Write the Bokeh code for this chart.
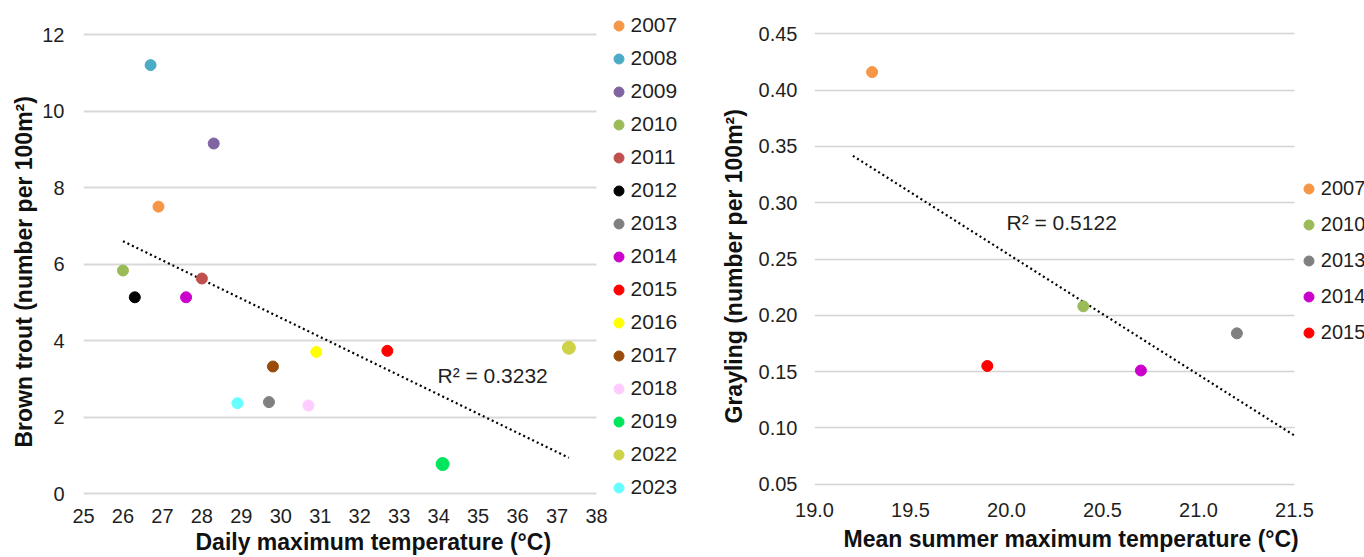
import numpy as np
from bokeh.plotting import figure
from bokeh.layouts import row
from bokeh.models import (Range1d, FixedTicker, NumeralTickFormatter, Legend,
                          LegendItem, Label, Title)
from bokeh.embed import file_html
from bokeh.resources import INLINE

# ---------------- data: brown trout (left panel) ----------------
bt_years = ["2007", "2008", "2009", "2010", "2011", "2012", "2013", "2014",
            "2015", "2016", "2017", "2018", "2019", "2022", "2023"]
bt_temp = [26.9, 26.7, 28.3, 26.0, 28.0, 26.3, 29.7, 27.6,
           32.7, 30.9, 29.8, 30.7, 34.1, 37.3, 28.9]
bt_density = [7.50, 11.20, 9.15, 5.83, 5.62, 5.13, 2.39, 5.13,
              3.73, 3.70, 3.32, 2.30, 0.77, 3.81, 2.36]
bt_colors = ["#F79646", "#4BACC6", "#8064A2", "#9BBB59", "#C0504D", "#000000",
             "#808080", "#CC00CC", "#FF0000", "#FFFF00", "#994C0A", "#FFCCFF",
             "#00E65C", "#CDD246", "#66FFFF"]
bt_r2 = "R² = 0.3232"
bt_x_ticks = [25, 26, 27, 28, 29, 30, 31, 32, 33, 34, 35, 36, 37, 38]
bt_y_ticks = [0, 2, 4, 6, 8, 10, 12]

# ---------------- data: grayling (right panel) ----------------
gr_years = ["2007", "2010", "2013", "2014", "2015"]
gr_temp = [19.3, 20.4, 21.2, 20.7, 19.9]
gr_density = [0.416, 0.208, 0.184, 0.151, 0.155]
gr_colors = ["#F79646", "#9BBB59", "#808080", "#CC00CC", "#FF0000"]
gr_r2 = "R² = 0.5122"
gr_trend_span = [19.2, 21.5]
gr_x_ticks = [19.0, 19.5, 20.0, 20.5, 21.0, 21.5]
gr_y_ticks = [0.05, 0.10, 0.15, 0.20, 0.25, 0.30, 0.35, 0.40, 0.45]

FONT = "Liberation Sans"
TXT = "#1f1f1f"
TITLE_C = "#111111"

# ---------------- layout geometry (pixels) ----------------
H = 557
FRAME_TOP, FRAME_BOTTOM = 8, 500           # shared by both panels
# left panel: axis box x 83..596 (25..38), y 493..34 (0..12)
L_W, L_FL, L_FR = 700, 83, 690
L_AX_R, L_Y0, L_Y12 = 596, 493, 34
# right panel: axis box x 814..1294 (19..21.5), y 483.7..33.3 (0.05..0.45)
R_W, R_FL, R_FR = 664, 114, 664
R_AX_R, R_YLO, R_YHI = 1294 - 700, 483.7, 33.3

# data->pixel scales and the resulting ranges
lx = (L_AX_R - L_FL) / (38 - 25)
ly = (L_Y0 - L_Y12) / (12 - 0)
L_XR = Range1d(25, 25 + (L_FR - L_FL) / lx)
L_YR = Range1d(0 - (FRAME_BOTTOM - L_Y0) / ly, 12 + (L_Y12 - FRAME_TOP) / ly)

rx = (R_AX_R - R_FL) / (21.5 - 19.0)
ry = (R_YLO - R_YHI) / (0.45 - 0.05)
R_XR = Range1d(19.0, 19.0 + (R_FR - R_FL) / rx)
R_YR = Range1d(0.05 - (FRAME_BOTTOM - R_YLO) / ry,
               0.45 + (R_YHI - FRAME_TOP) / ry)


def make_fig(width, xr, yr, bl, br):
    p = figure(width=width, height=H, x_range=xr, y_range=yr,
               output_backend="svg", toolbar_location=None,
               min_border_left=bl, min_border_right=br,
               min_border_top=FRAME_TOP, min_border_bottom=H - FRAME_BOTTOM)
    p.outline_line_color = None
    p.background_fill_color = "white"
    p.border_fill_color = "white"
    p.xgrid.visible = False
    for ax in (p.xaxis[0], p.yaxis[0]):
        ax.axis_line_color = None
        ax.major_tick_line_color = None
        ax.minor_tick_line_color = None
        ax.major_tick_out = 0
        ax.major_tick_in = 0
        ax.major_label_text_font = FONT
        ax.major_label_text_font_size = "20px"
        ax.major_label_text_color = TXT
    return p


def bounded_grid(p, ticks, lo, hi, color, width):
    try:
        p.ygrid.cross_bounds = (lo, hi)
        p.ygrid.ticker = FixedTicker(ticks=ticks)
        p.ygrid.grid_line_color = color
        p.ygrid.grid_line_width = width
    except AttributeError:
        p.ygrid.visible = False
        p.segment(x0=[lo] * len(ticks), x1=[hi] * len(ticks), y0=ticks,
                  y1=ticks, line_color=color, line_width=width, level="underlay")


def side_title(text, offset, standoff):
    # align "left": offset = distance from the frame's start edge
    return Title(text=text, align="left", offset=offset, standoff=standoff,
                 text_font=FONT, text_font_size="23px", text_font_style="bold",
                 text_color=TITLE_C)


def style_legend(items, loc, spacing, standoff, fsize):
    return Legend(items=items, location=loc, glyph_width=25, glyph_height=25,
                  label_height=25, spacing=spacing, padding=0, margin=0,
                  label_standoff=standoff, border_line_color=None,
                  background_fill_alpha=0, label_text_font=FONT,
                  label_text_font_size=fsize, label_text_color=TXT)


# ---------------- left figure ----------------
p1 = make_fig(L_W, L_XR, L_YR, L_FL, L_W - L_FR)
p1.xaxis.ticker = FixedTicker(ticks=bt_x_ticks)
p1.yaxis.ticker = FixedTicker(ticks=bt_y_ticks)
p1.xaxis.major_label_standoff = 8
p1.yaxis.major_label_standoff = 19
bounded_grid(p1, bt_y_ticks, 25, 38, "#d9d9d9", 2)

k1, b1 = np.polyfit(bt_temp, bt_density, 1)
tx1 = np.array([min(bt_temp), max(bt_temp)])
p1.line(tx1, k1 * tx1 + b1, line_color="black", line_width=2.2,
        line_dash="2 3")

big = {"2019", "2022"}
items1 = []
for yr, xv, yv, c in zip(bt_years, bt_temp, bt_density, bt_colors):
    r = p1.scatter([xv], [yv], size=13 if yr in big else 11,
                   fill_color=c, line_color=c)
    items1.append(LegendItem(label=yr, renderers=[r]))
p1.add_layout(style_legend(items1, (605.5 - L_FL, FRAME_BOTTOM - 499.5),
                           8, -6, "21px"))

p1.add_layout(Label(x=33.97, y=3.085, text=bt_r2, text_baseline="middle",
                    text_font=FONT, text_font_size="21px", text_color=TXT))
p1.add_layout(side_title("Daily maximum temperature (°C)", 195 - L_FL, 3),
              "below")
p1.add_layout(side_title("Brown trout (number per 100m²)",
                         FRAME_BOTTOM - 447, 5), "left")

# ---------------- right figure ----------------
p2 = make_fig(R_W, R_XR, R_YR, R_FL, R_W - R_FR)
p2.xaxis.ticker = FixedTicker(ticks=gr_x_ticks)
p2.yaxis.ticker = FixedTicker(ticks=gr_y_ticks)
p2.xaxis.formatter = NumeralTickFormatter(format="0.0")
p2.yaxis.formatter = NumeralTickFormatter(format="0.00")
p2.xaxis.major_label_standoff = 2
p2.yaxis.major_label_standoff = 17
bounded_grid(p2, gr_y_ticks, 19.0, 21.5, "#d4d4d4", 1.3)

k2, b2 = np.polyfit(gr_temp, gr_density, 1)
tx2 = np.array(gr_trend_span)
p2.line(tx2, k2 * tx2 + b2, line_color="black", line_width=2.2,
        line_dash="2 3")

items2 = []
for yr, xv, yv, c in zip(gr_years, gr_temp, gr_density, gr_colors):
    r = p2.scatter([xv], [yv], size=11, fill_color=c, line_color=c)
    items2.append(LegendItem(label=yr, renderers=[r]))
p2.add_layout(style_legend(items2, (1295.8 - 700 - R_FL, FRAME_BOTTOM - 344.8),
                           11, -7, "20px"))

p2.add_layout(Label(x=20.0, y=0.2824, text=gr_r2, text_baseline="middle",
                    text_font=FONT, text_font_size="21px", text_color=TXT))
p2.add_layout(side_title("Mean summer maximum temperature (°C)",
                         843 - 700 - R_FL, 9), "below")
p2.add_layout(side_title("Grayling (number per 100m²)",
                         FRAME_BOTTOM - 423, 18), "left")

layout = row(p1, p2)
open("out.html", "w").write(file_html(layout, INLINE))
